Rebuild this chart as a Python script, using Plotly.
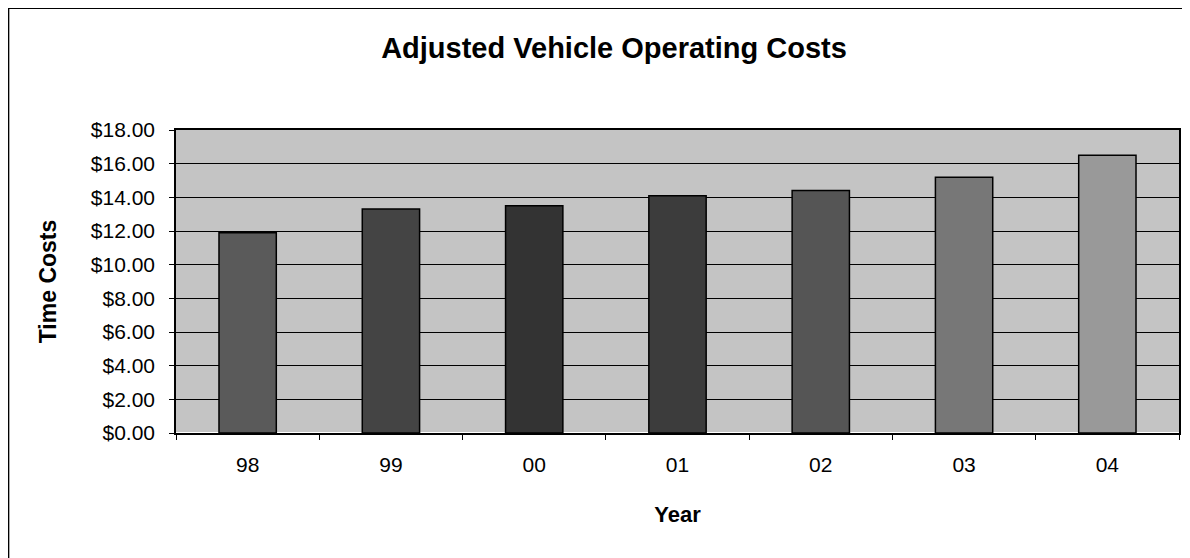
import plotly.graph_objects as go

years = ["98", "99", "00", "01", "02", "03", "04"]
costs = [11.9, 13.3, 13.5, 14.1, 14.4, 15.2, 16.5]
bar_colors = ["#5a5a5a", "#444444", "#333333", "#3c3c3c", "#555555", "#777777", "#999999"]

# page has an 8px body margin, so the figure starts at page (8, 8)
W, H = 1182, 550
L, R, T, B = 168, 9, 122, 125
pw, ph = W - L - R, H - T - B

def px(x):
    return (x - L) / pw

def py(y):
    return (H - B - y) / ph

fig = go.Figure(go.Bar(
    x=years, y=costs,
    marker=dict(color=bar_colors, line=dict(color="black", width=1.5)),
    width=0.4,
))

font = "Liberation Sans, Arial, sans-serif"
fig.update_layout(
    width=W, height=H,
    margin=dict(l=L, r=R, t=T, b=B),
    paper_bgcolor="white",
    plot_bgcolor="#c4c4c4",
    showlegend=False,
    font=dict(family=font, color="black", size=21),
    title=dict(text="<b>Adjusted Vehicle Operating Costs</b>", x=606 / W, xanchor="center",
               y=1 - 40 / H, yanchor="middle", font=dict(size=29, family=font)),
    xaxis=dict(
        type="category", tickson="boundaries", ticks="outside", ticklen=5,
        tickcolor="black", showline=True, linecolor="black", linewidth=1.5,
        showgrid=False, mirror=True, ticklabelstandoff=12,
        tickfont=dict(size=21),
        title=dict(text="<b>Year</b>", font=dict(size=22), standoff=32),
    ),
    yaxis=dict(
        range=[0, 18], dtick=2, tickformat="$.2f", ticks="outside", ticklen=5,
        tickcolor="black", showline=True, linecolor="black", linewidth=1.5,
        mirror=True, showgrid=True, gridcolor="black", gridwidth=1,
        ticklabelstandoff=10,
        tickfont=dict(size=21),
        title=dict(text="<b>Time Costs</b>", font=dict(size=23), standoff=28),
    ),
    shapes=[
        dict(type="line", xref="paper", yref="paper", x0=px(0), x1=px(W + 5),
             y0=py(0), y1=py(0), line=dict(color="black", width=2)),
        dict(type="line", xref="paper", yref="paper", x0=px(0), x1=px(0),
             y0=py(0), y1=py(H + 5), line=dict(color="black", width=2)),
    ],
)

fig.write_html("out.html")
